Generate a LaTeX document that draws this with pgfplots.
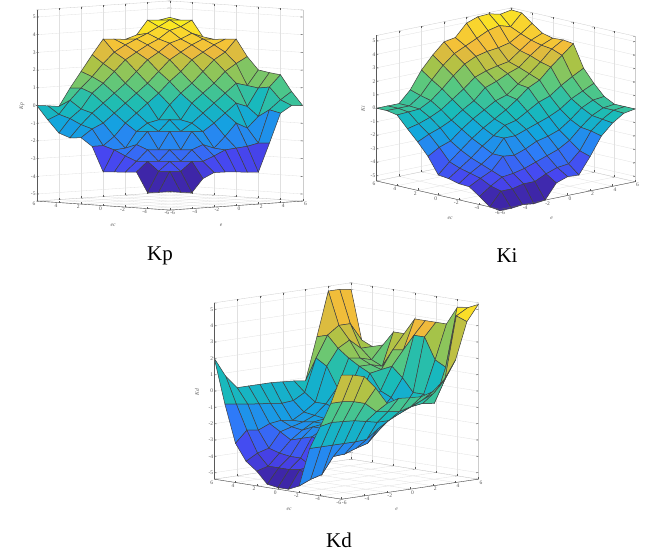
\documentclass[border=0pt]{standalone}
\usepackage{fontspec}
\setmainfont{Liberation Serif}
\usepackage{pgfplots}
\pgfplotsset{compat=1.18}
\definecolor{axc}{gray}{0.35}
\definecolor{gridc}{gray}{0.88}
\pgfplotsset{
 panel/.style={
  clip=false, anchor=origin,
  xmin=-6,xmax=6,ymin=-6,ymax=6,zmin=-5.4,zmax=5.4,
  xtick={-6,-4,...,6},ytick={-6,-4,...,6},ztick={-5,-4,...,5},
  grid=major, major grid style={gridc,line width=0.3pt},
  axis line style={gray!40,line width=0.3pt},
  tick style={axc,line width=0.3pt}, major tick length=2pt,
  tick label style={font=\fontsize{5.5}{6}\selectfont,text=axc,inner sep=1pt},
  /pgf/number format/assume math mode=true,
  colormap={parula}{rgb255=(62,38,168) rgb255=(71,70,240) rgb255=(45,125,248) rgb255=(18,165,222) rgb255=(25,187,185) rgb255=(85,200,130) rgb255=(170,195,70) rgb255=(240,185,60) rgb255=(250,215,45) rgb255=(249,251,21)},
 },
 srf/.style={surf,shader=flat corner,draw=black!75,line width=0.5pt,mesh/rows=13,mesh/cols=13,
   point meta=z},
}
\begin{document}
\begin{tikzpicture}[x=1pt,y=1pt]
\path[fill=white] (0,0) rectangle (647,553);
% ---- Kp
\begin{axis}[panel,at={(169.7pt,447.5pt)},
 x={(11.08pt,0.75pt)},y={(-11.08pt,0.75pt)},z={(0pt,17.7pt)}]
\addplot3[srf] table[header=false,row sep=\\]{
-6 -6 -4.35\\-5 -6 -4.44\\-4 -6 -4.5\\-3 -6 -3.75\\-2 -6 -3.45\\-1 -6 -3.46\\0 -6 -3.5\\1 -6 -3.55\\2 -6 -3.6\\3 -6 -2\\4 -6 -0.35\\5 -6 0.04\\6 -6 0\\
-6 -5 -4.44\\-5 -5 -3.3\\-4 -5 -3.34\\-3 -5 -2.82\\-2 -5 -2.86\\-1 -5 -2.6\\0 -5 -2.3\\1 -5 -2.24\\2 -5 -2.18\\3 -5 -2.04\\4 -5 -0.2\\5 -5 0.32\\6 -5 0.75\\
-6 -4 -4.5\\-5 -4 -3.34\\-4 -4 -2.82\\-3 -4 -2.86\\-2 -4 -2.25\\-1 -4 -2\\0 -4 -2.24\\1 -4 -1.62\\2 -4 -0.91\\3 -4 -1.23\\4 -4 -0.62\\5 -4 1\\6 -4 1.65\\
-6 -3 -3.38\\-5 -3 -2.82\\-4 -3 -2.86\\-3 -3 -2.25\\-2 -3 -2.29\\-1 -3 -1.3\\0 -3 -1.35\\1 -3 -0.91\\2 -3 -0.39\\3 -3 0.13\\4 -3 -0.1\\5 -3 0.9\\6 -3 1.73\\
-6 -2 -3.42\\-5 -2 -2.86\\-4 -2 -2.25\\-3 -2 -2.29\\-2 -2 -1.3\\-1 -2 -1.34\\0 -2 -0.91\\1 -2 -0.39\\2 -2 0.13\\3 -2 0.65\\4 -2 1.17\\5 -2 1\\6 -2 1.84\\
-6 -1 -3.46\\-5 -1 -2.6\\-4 -1 -2\\-3 -1 -1.3\\-2 -1 -1.34\\-1 -1 -0.72\\0 -1 -0.77\\1 -1 0.13\\2 -1 0.65\\3 -1 1.17\\4 -1 1.79\\5 -1 2.2\\6 -1 2.55\\
-6 0 -3.5\\-5 0 -2.3\\-4 0 -2.24\\-3 0 -1.35\\-2 0 -0.91\\-1 0 -0.77\\0 0 0.04\\1 0 0.65\\2 0 1.17\\3 0 1.79\\4 0 2.41\\5 0 2.8\\6 0 3.5\\
-6 1 -2.1\\-5 1 -2.1\\-4 1 -1.62\\-3 1 -0.91\\-2 1 -0.39\\-1 1 0.13\\0 1 0.65\\1 1 1.27\\2 1 1.79\\3 1 2.41\\4 1 2.8\\5 1 3.17\\6 1 3.45\\
-6 2 -1.65\\-5 2 -1.2\\-4 2 -0.91\\-3 2 -0.39\\-2 2 0.13\\-1 2 0.65\\0 2 1.17\\1 2 1.79\\2 2 2.41\\3 2 2.8\\4 2 3.17\\5 2 3.46\\6 2 3.4\\
-6 3 -1.7\\-5 3 -1\\-4 3 -0.39\\-3 3 0.13\\-2 3 0.65\\-1 3 1.17\\0 3 1.79\\1 3 2.41\\2 3 2.8\\3 3 3.26\\4 3 3.46\\5 3 3.74\\6 3 3.5\\
-6 4 -1.47\\-5 4 -0.7\\-4 4 -0.2\\-3 4 0.65\\-2 4 1.17\\-1 4 1.79\\0 4 2.41\\1 4 2.8\\2 4 3.17\\3 4 3.46\\4 4 3.9\\5 4 4.07\\6 4 4.4\\
-6 5 -0.77\\-5 5 -0.5\\-4 5 0.25\\-3 5 0.9\\-2 5 1.5\\-1 5 2.2\\0 5 2.8\\1 5 3.17\\2 5 3.46\\3 5 3.74\\4 5 4.07\\5 5 4.41\\6 5 4.35\\
-6 6 0\\-5 6 -0.06\\-4 6 -0.14\\-3 6 0.85\\-2 6 1.75\\-1 6 2.65\\0 6 3.5\\1 6 3.45\\2 6 3.4\\3 6 3.6\\4 6 4.4\\5 6 4.35\\6 6 4.47\\
};
\draw[axc,line width=0.4pt] (axis cs:-6,6,-5.4)--(axis cs:-6,6,5.4);
\draw[axc,line width=0.4pt] (axis cs:-6,6,-5.4)--(axis cs:-6,-6,-5.4)--(axis cs:6,-6,-5.4);
\end{axis}
% ---- Ki
\begin{axis}[panel,at={(505.8pt,444.4pt)},
 x={(11.25pt,2.3pt)},y={(-10.3pt,2.36pt)},z={(0pt,13.47pt)}]
\addplot3[srf] table[header=false,row sep=\\]{
-6 -6 -5.5\\-5 -6 -5.5\\-4 -6 -5.4\\-3 -6 -5.5\\-2 -6 -5.4\\-1 -6 -4.3\\0 -6 -4\\1 -6 -4.05\\2 -6 -2.85\\3 -6 -1.5\\4 -6 -0.7\\5 -6 -0.15\\6 -6 0\\
-6 -5 -5.4\\-5 -5 -4.4\\-4 -5 -4.4\\-3 -5 -4.2\\-2 -5 -4.2\\-1 -5 -3.8\\0 -5 -3.5\\1 -5 -3.4\\2 -5 -2.6\\3 -5 -1.3\\4 -5 -0.6\\5 -5 -0.1\\6 -5 0\\
-6 -4 -4.8\\-5 -4 -4.2\\-4 -4 -3.7\\-3 -4 -3.6\\-2 -4 -3.4\\-1 -4 -3.1\\0 -4 -2.8\\1 -4 -2.5\\2 -4 -2\\3 -4 -1.2\\4 -4 -0.5\\5 -4 -0.1\\6 -4 0\\
-6 -3 -4.25\\-5 -3 -3.8\\-4 -3 -3.4\\-3 -3 -2.5\\-2 -3 -2.6\\-1 -3 -2.3\\0 -3 -1.9\\1 -3 -1.7\\2 -3 -1.4\\3 -3 -0.8\\4 -3 -0.1\\5 -3 0.3\\6 -3 0.4\\
-6 -2 -4.2\\-5 -2 -3.6\\-4 -2 -3.1\\-3 -2 -2.5\\-2 -2 -1.5\\-1 -2 -1.5\\0 -2 -1.2\\1 -2 -0.9\\2 -2 -0.6\\3 -2 -0.2\\4 -2 0.4\\5 -2 0.8\\6 -2 1.2\\
-6 -1 -4\\-5 -1 -3.4\\-4 -1 -2.8\\-3 -1 -2.1\\-2 -1 -1.5\\-1 -1 -0.9\\0 -1 -0.7\\1 -1 -0.2\\2 -1 0.3\\3 -1 0.6\\4 -1 1.2\\5 -1 1.7\\6 -1 2.15\\
-6 0 -3.9\\-5 0 -3.1\\-4 0 -2.4\\-3 0 -1.7\\-2 0 -1.1\\-1 0 -0.6\\0 0 -0.1\\1 0 0.5\\2 0 1.2\\3 0 1.6\\4 0 2.4\\5 0 3.1\\6 0 3.8\\
-6 1 -2.7\\-5 1 -2.2\\-4 1 -1.9\\-3 1 -1.2\\-2 1 -0.6\\-1 1 -0.1\\0 1 0.4\\1 1 0.66\\2 1 1.3\\3 1 1.9\\4 1 2.6\\5 1 3.4\\6 1 3.9\\
-6 2 -1.8\\-5 2 -1.4\\-4 2 -1.1\\-3 2 -0.7\\-2 2 -0.1\\-1 2 0.4\\0 2 1.2\\1 2 1.5\\2 2 1.9\\3 2 2.2\\4 2 2.9\\5 2 3.5\\6 2 3.85\\
-6 3 -1\\-5 3 -0.8\\-4 3 -0.5\\-3 3 -0.1\\-2 3 0.5\\-1 3 1.1\\0 3 1.8\\1 3 2.1\\2 3 2.3\\3 3 2.45\\4 3 3.1\\5 3 3.7\\6 3 4.05\\
-6 4 -0.15\\-5 4 -0.1\\-4 4 -0.05\\-3 4 0.4\\-2 4 1.1\\-1 4 1.9\\0 4 2.6\\1 4 3\\2 4 3.2\\3 4 3.3\\4 4 3.5\\5 4 4\\6 4 4.6\\
-6 5 0\\-5 5 0\\-4 5 0\\-3 5 0.6\\-2 5 1.6\\-1 5 2.5\\0 5 3.2\\1 5 3.6\\2 5 4\\3 5 4.4\\4 5 4.6\\5 5 4.35\\6 5 5.2\\
-6 6 0\\-5 6 0\\-4 6 0\\-3 6 0.85\\-2 6 2.15\\-1 6 3.1\\0 6 3.9\\1 6 4.05\\2 6 4.95\\3 6 5.25\\4 6 5.3\\5 6 5.1\\6 6 5.25\\
};
\draw[axc,line width=0.4pt] (axis cs:-6,6,-5.4)--(axis cs:-6,6,5.4);
\draw[axc,line width=0.4pt] (axis cs:-6,6,-5.4)--(axis cs:-6,-6,-5.4)--(axis cs:6,-6,-5.4);
\end{axis}
% ---- Kd
\begin{axis}[panel,at={(346.3pt,162pt)},
 x={(11.4pt,1.67pt)},y={(-10.6pt,1.67pt)},z={(0pt,16.33pt)}]
\addplot3[srf] table[header=false,row sep=\\]{
-6 -6 2.2\\-5 -6 2.1\\-4 -6 1.9\\-3 -6 1.1\\-2 -6 0.06\\-1 -6 0.26\\0 -6 0.2\\1 -6 0.16\\2 -6 0.37\\3 -6 1\\4 -6 2.1\\5 -6 4.35\\6 -6 5.3\\
-6 -5 0.37\\-5 -5 0.37\\-4 -5 0.27\\-3 -5 0.06\\-2 -5 -0.55\\-1 -5 -0.65\\0 -5 -0.75\\1 -5 -0.55\\2 -5 -0.25\\3 -5 0.06\\4 -5 0.8\\5 -5 4.6\\6 -5 5\\
-6 -4 -1.15\\-5 -4 -1\\-4 -4 -1.05\\-3 -4 -1.1\\-2 -4 -1.25\\-1 -4 -1.4\\0 -4 -1.4\\1 -4 -1.05\\2 -4 -0.75\\3 -4 -0.65\\4 -4 -0.75\\5 -4 1.35\\6 -4 4.9\\
-6 -3 -2.6\\-5 -3 -2.6\\-4 -3 -2.6\\-3 -3 -2.6\\-2 -3 -2.6\\-1 -3 -2.55\\0 -3 -2\\1 -3 -1.4\\2 -3 -0.85\\3 -3 -0.7\\4 -3 -0.3\\5 -3 1.7\\6 -3 3.8\\
-6 -2 -5\\-5 -2 -4.7\\-4 -2 -4.5\\-3 -2 -3.5\\-2 -2 -3.45\\-1 -2 -3.2\\0 -2 -3\\1 -2 -2.3\\2 -2 -1.7\\3 -2 -1.25\\4 -2 -0.3\\5 -2 3\\6 -2 3.8\\
-6 -1 -5.3\\-5 -1 -4.2\\-4 -1 -4.1\\-3 -1 -2.7\\-2 -1 -2.8\\-1 -1 -2.8\\0 -1 -2.6\\1 -1 -2\\2 -1 -1.4\\3 -1 -0.6\\4 -1 0.5\\5 -1 3\\6 -1 3.8\\
-6 0 -5.3\\-5 0 -4.3\\-4 0 -3.7\\-3 0 -2.5\\-2 0 -2.1\\-1 0 -2.2\\0 0 -2\\1 0 -1.6\\2 0 -1\\3 0 -0.3\\4 0 1.1\\5 0 2\\6 0 3.8\\
-6 1 -5.2\\-5 1 -4.3\\-4 1 -3.7\\-3 1 -2.7\\-2 1 -2.1\\-1 1 -2\\0 1 -2\\1 1 -1.4\\2 1 -0.8\\3 1 0.67\\4 1 0.8\\5 1 1.9\\6 1 2.8\\
-6 2 -4.5\\-5 2 -4.3\\-4 2 -3.6\\-3 2 -2.9\\-2 2 -2.4\\-1 2 -2\\0 2 -1.9\\1 2 -1.4\\2 2 -0.5\\3 2 1\\4 2 1\\5 2 0.8\\6 2 2.8\\
-6 3 -4\\-5 3 -3.6\\-4 3 -3.4\\-3 3 -2.5\\-2 3 -2.3\\-1 3 -2.1\\0 3 -1.8\\1 3 -1.2\\2 3 -0.3\\3 3 1.4\\4 3 1.3\\5 3 1.1\\6 3 1.9\\
-6 4 -3\\-5 4 -2.3\\-4 4 -2.4\\-3 4 -2.1\\-2 4 -2\\-1 4 -2.1\\0 4 -1.7\\1 4 -1.2\\2 4 0.9\\3 4 1.9\\4 4 2.3\\5 4 1.7\\6 4 1.7\\
-6 5 -0.7\\-5 5 -0.8\\-4 5 -0.9\\-3 5 -1\\-2 5 -1.06\\-1 5 -1.16\\0 5 -1.1\\1 5 -0.7\\2 5 1.3\\3 5 2.6\\4 5 3.1\\5 5 3.1\\6 5 2\\
-6 6 2\\-5 6 0.8\\-4 6 0\\-3 6 0\\-2 6 0\\-1 6 0\\0 6 -0.05\\1 6 -0.1\\2 6 -0.2\\3 6 2.4\\4 6 5.1\\5 6 5.1\\6 6 5\\
};
\draw[axc,line width=0.4pt] (axis cs:-6,6,-5.4)--(axis cs:-6,6,5.4);
\draw[axc,line width=0.4pt] (axis cs:-6,6,-5.4)--(axis cs:-6,-6,-5.4)--(axis cs:6,-6,-5.4);
\end{axis}
% ---- captions and axis names
\node[font=\fontsize{21}{24}\selectfont] at (160,297) {Kp};
\node[font=\fontsize{21}{24}\selectfont] at (507,297) {Ki};
\node[font=\fontsize{21}{24}\selectfont] at (339,13) {Kd};
\tikzset{lab/.style={font=\fontsize{5.5}{6}\itshape\selectfont,text=axc,inner sep=0pt}}
\node[lab] at (113,328) {ec};
\node[lab] at (221,328) {e};
\node[lab,rotate=90] at (22,447) {Kp};
\node[lab] at (450,335) {ec};
\node[lab] at (551.7,335) {e};
\node[lab,rotate=90] at (363,444) {Ki};
\node[lab] at (289,44) {ec};
\node[lab] at (396.7,44) {e};
\node[lab,rotate=90] at (197,161) {Kd};
\end{tikzpicture}
\end{document}
